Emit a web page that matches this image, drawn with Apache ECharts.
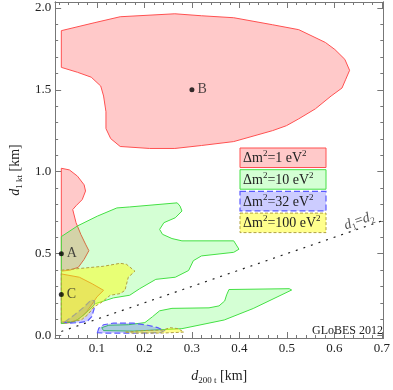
<!DOCTYPE html>
<html>
<head>
<meta charset="utf-8">
<title>GLoBES 2012</title>
<script src="https://cdn.jsdelivr.net/npm/echarts@6/dist/echarts.min.js"></script>
<style>
  html, body { margin: 0; padding: 0; background: #fff; }
  #chart { width: 393px; height: 390px; }
</style>
</head>
<body>
<div id="chart"></div>
<script>
// ---- data ----
var xMajor = [0.1, 0.2, 0.3, 0.4, 0.5, 0.6, 0.7];
var yMajor = [0.0, 0.5, 1.0, 1.5, 2.0];

// contour regions, [d200t, d1kt] in km
var redBig = [[0.025,1.861],[0.094,1.909],[0.149,1.946],[0.264,1.964],[0.320,1.952],[0.388,1.940],
  [0.470,1.897],[0.525,1.867],[0.581,1.789],[0.601,1.746],[0.622,1.686],[0.632,1.619],[0.624,1.565],
  [0.616,1.511],[0.593,1.462],[0.560,1.384],[0.525,1.323],[0.499,1.281],[0.470,1.251],[0.388,1.184],
  [0.320,1.160],[0.264,1.142],[0.211,1.142],[0.149,1.154],[0.129,1.202],[0.119,1.263],[0.119,1.366],
  [0.114,1.462],[0.108,1.523],[0.088,1.577],[0.059,1.607],[0.025,1.637]];
var redSmall = [[0.025,1.021],[0.042,1.011],[0.059,0.973],[0.073,0.920],[0.076,0.882],[0.069,0.830],
  [0.056,0.792],[0.049,0.769],[0.056,0.689],[0.066,0.618],[0.076,0.558],[0.083,0.518],[0.073,0.465],
  [0.061,0.417],[0.043,0.399],[0.025,0.393]];
var redC = [[0.025,0.376],[0.063,0.356],[0.090,0.316],[0.114,0.276],[0.100,0.236],[0.090,0.193],
  [0.078,0.145],[0.063,0.103],[0.045,0.079],[0.025,0.073]];
var greenBig = [[0.025,0.604],[0.059,0.669],[0.101,0.729],[0.142,0.779],[0.169,0.785],[0.269,0.810],
  [0.275,0.790],[0.279,0.760],[0.265,0.719],[0.241,0.689],[0.232,0.648],[0.238,0.618],[0.258,0.592],
  [0.279,0.578],[0.388,0.578],[0.399,0.527],[0.388,0.508],[0.320,0.486],[0.303,0.457],[0.293,0.397],
  [0.265,0.356],[0.224,0.343],[0.190,0.286],[0.169,0.246],[0.135,0.230],[0.097,0.195],[0.073,0.127],
  [0.053,0.085],[0.025,0.073]];
var greenLow = [[0.510,0.278],[0.505,0.286],[0.378,0.281],[0.373,0.248],[0.369,0.211],[0.357,0.181],
  [0.336,0.169],[0.258,0.166],[0.232,0.151],[0.217,0.115],[0.201,0.079],[0.166,0.066],[0.125,0.063],
  [0.110,0.048],[0.114,0.030],[0.176,0.027],[0.279,0.042],[0.368,0.095],[0.429,0.165]];
var blueLeft = [[0.032,0.082],[0.053,0.127],[0.073,0.175],[0.088,0.218],[0.095,0.211],[0.094,0.163],
  [0.089,0.115],[0.080,0.088],[0.063,0.079],[0.043,0.076]];
var blueLow = [[0.101,0.018],[0.104,0.045],[0.114,0.066],[0.135,0.076],[0.176,0.076],[0.207,0.063],
  [0.228,0.048],[0.242,0.030],[0.234,0.018],[0.176,0.015],[0.114,0.015]];
var yellowBig = [[0.025,0.399],[0.114,0.423],[0.149,0.441],[0.162,0.435],[0.180,0.393],[0.166,0.356],
  [0.159,0.276],[0.149,0.256],[0.128,0.246],[0.111,0.205],[0.094,0.175],[0.080,0.125],[0.067,0.095],
  [0.046,0.085],[0.025,0.082]];
var yellowLow = [[0.160,0.021],[0.197,0.030],[0.238,0.033],[0.254,0.048],[0.271,0.042],[0.283,0.021],
  [0.238,0.015],[0.176,0.015]];

var pointNames = ['A', 'B', 'C'];
var pointValues = [[0.025, 0.5], [0.3, 1.5], [0.025, 0.25]];
var diagonal = [[0.025, 0.025], [0.7, 0.7]];

var legendLabels = ['Δm{sup|2}=1 eV{sup|2}', 'Δm{sup|2}=10 eV{sup|2}',
                    'Δm{sup|2}=32 eV{sup|2}', 'Δm{sup|2}=100 eV{sup|2}'];

// ---- styles ----
var serif = "'Liberation Serif', 'DejaVu Serif', serif";
var frameColor = '#777';
var X_MIN = 0.012, X_MAX = 0.703, Y_MIN = -0.015, Y_MAX = 2.036;

var styles = {
  red:    { fill: 'rgba(255,0,0,0.21)',   stroke: '#ff5050', lineWidth: 1 },
  green:  { fill: 'rgba(0,255,0,0.17)',   stroke: '#44e044', lineWidth: 1 },
  blue:   { fill: 'rgba(0,0,255,0.2)',    stroke: '#5a5aff', lineWidth: 1.2, lineDash: [6, 3] },
  yellow: { fill: 'rgba(255,255,0,0.45)', stroke: '#b0a040', lineWidth: 1, lineDash: [3, 2] }
};

var xMinor = [], yMinor = [];
for (var i = 1; i < 35; i++) { if (i % 5) xMinor.push(+(i * 0.02).toFixed(2)); }
for (var j = 1; j < 20; j++) { if (j % 5) yMinor.push(+(j * 0.1).toFixed(1)); }

function polygonSeries(pts, st) {
  return {
    type: 'custom',
    xAxisIndex: 0, yAxisIndex: 0,
    silent: true,
    clip: true,
    data: pts,
    renderItem: function (params, api) {
      if (params.dataIndex !== 0) return null;
      var p = pts.map(function (d) { return api.coord(d); });
      return { type: 'polygon', shape: { points: p }, style: st };
    }
  };
}

function axis(kind, pos, ticks, len, labels, extra) {
  var a = {
    type: 'value',
    position: pos,
    min: kind === 'x' ? X_MIN : Y_MIN,
    max: kind === 'x' ? X_MAX : Y_MAX,
    axisLine: { show: true, onZero: false, lineStyle: { color: frameColor, width: 1 } },
    axisTick: { show: true, inside: true, length: len, customValues: ticks,
                lineStyle: { color: frameColor, width: 1 } },
    axisLabel: labels ? {
      show: true, customValues: ticks, margin: 4,
      fontFamily: serif, fontSize: 13, color: '#222',
      formatter: function (v) { return v.toFixed(1); }
    } : { show: false },
    splitLine: { show: false }
  };
  for (var k in extra) a[k] = extra[k];
  return a;
}

var nameRich = {
  i: { fontFamily: serif, fontStyle: 'italic', fontSize: 14, color: '#222', lineHeight: 18, verticalAlign: 'middle' },
  s: { fontFamily: serif, fontSize: 9, color: '#222', lineHeight: 12, verticalAlign: 'bottom' },
  n: { fontFamily: serif, fontSize: 14, color: '#222', lineHeight: 18, verticalAlign: 'middle' }
};

var chart = echarts.init(document.getElementById('chart'));

var legendStyles = [styles.red, styles.green, styles.blue, styles.yellow];
var legendGraphics = legendLabels.map(function (t, n) {
  var top = 148 + n * 21.7;
  var st = legendStyles[n];
  return {
    type: 'group',
    children: [
      { type: 'rect', shape: { x: 240, y: top, width: 86, height: 19.5 },
        style: { fill: st.fill, stroke: st.stroke, lineWidth: st.lineWidth, lineDash: st.lineDash } },
      { type: 'text', x: 243, y: top + 10.5,
        style: { text: t, fontFamily: serif, fontSize: 14, fill: '#222', textVerticalAlign: 'middle',
                 rich: { sup: { fontFamily: serif, fontSize: 9, fill: '#222', verticalAlign: 'top', lineHeight: 18 } } } }
    ]
  };
});

chart.setOption({
  animation: false,
  grid: { left: 50, right: 7, top: 2, bottom: 49 },
  xAxis: [
    axis('x', 'bottom', xMajor, 6, true, {
      name: '{i|d}{s|200 t}{n| [km]}', nameLocation: 'middle', nameGap: 29,
      nameTextStyle: { rich: nameRich }
    }),
    axis('x', 'bottom', xMinor, 3, false, {}),
    axis('x', 'top', xMajor, 6, false, {}),
    axis('x', 'top', xMinor, 3, false, {})
  ],
  yAxis: [
    axis('y', 'left', yMajor, 6, true, {
      name: '{i|d}{s|1 kt}{n| [km]}', nameLocation: 'middle', nameGap: 30, nameRotate: 90,
      nameTextStyle: { rich: nameRich }
    }),
    axis('y', 'left', yMinor, 3, false, {}),
    axis('y', 'right', yMajor, 6, false, {}),
    axis('y', 'right', yMinor, 3, false, {})
  ],
  graphic: legendGraphics.concat([
    { type: 'text', x: 383, y: 331,
      style: { text: 'GLoBES 2012', fontFamily: serif, fontSize: 12, fill: '#222',
               textAlign: 'right', textVerticalAlign: 'middle' } }
  ]),
  series: [
    polygonSeries(redBig, styles.red),
    polygonSeries(redSmall, styles.red),
    polygonSeries(redC, styles.red),
    polygonSeries(greenBig, styles.green),
    polygonSeries(greenLow, styles.green),
    polygonSeries(blueLeft, styles.blue),
    polygonSeries(blueLow, styles.blue),
    polygonSeries(yellowBig, styles.yellow),
    polygonSeries(yellowLow, styles.yellow),
    {
      type: 'line', xAxisIndex: 0, yAxisIndex: 0, data: diagonal,
      symbol: 'none', silent: true,
      lineStyle: { color: '#222', width: 1.2, type: [2, 6] }
    },
    {
      type: 'scatter', xAxisIndex: 0, yAxisIndex: 0, silent: true,
      data: [{ value: [0.652, 0.70] }],
      symbolSize: 0,
      label: {
        show: true, position: 'inside', rotate: 19,
        formatter: '{i|d}{s|1}{n|=}{i|d}{s|2}',
        rich: nameRich
      }
    },
    {
      type: 'scatter', xAxisIndex: 0, yAxisIndex: 0, silent: true,
      data: pointValues.map(function (v, n) { return { value: v, name: pointNames[n] }; }),
      symbolSize: 5,
      itemStyle: { color: '#000' },
      label: {
        show: true, position: 'right', distance: 3, formatter: '{b}',
        fontFamily: serif, fontSize: 14, color: '#222'
      }
    }
  ]
});
</script>
</body>
</html>
